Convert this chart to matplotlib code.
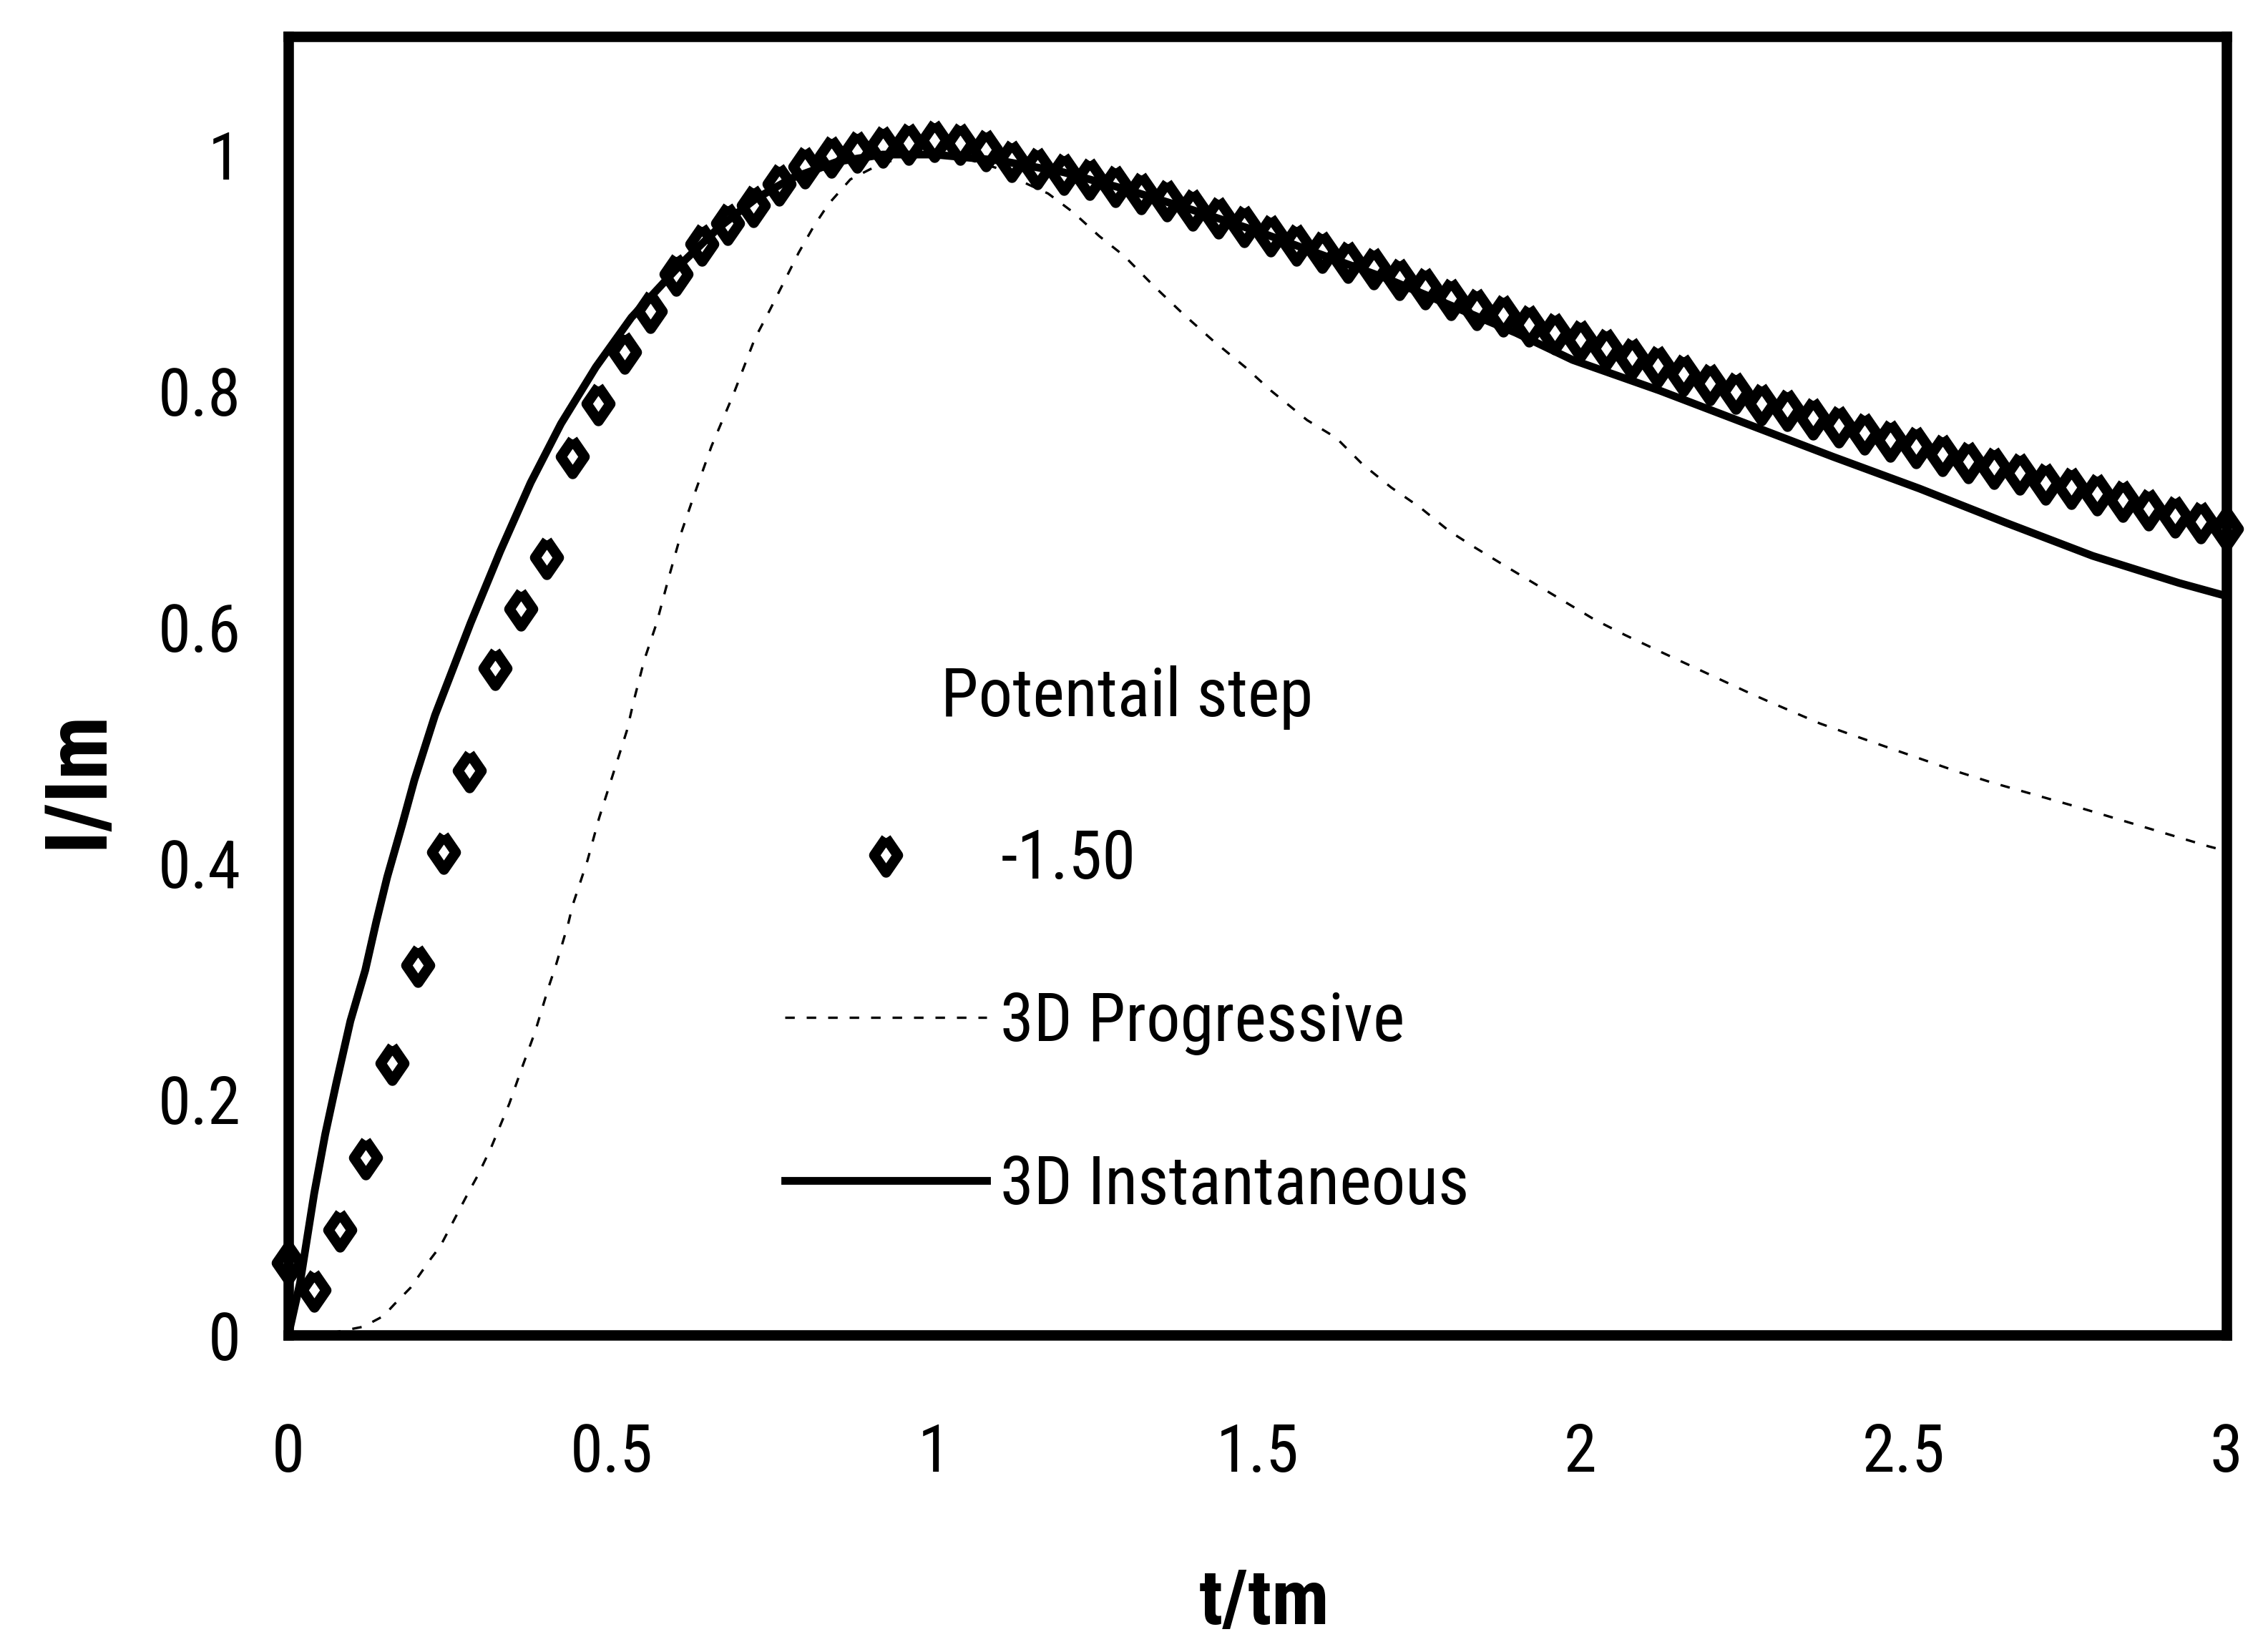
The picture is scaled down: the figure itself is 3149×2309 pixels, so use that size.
import matplotlib
matplotlib.use('Agg')
import matplotlib.pyplot as plt
from matplotlib import font_manager

# pick a narrow sans font if one is installed (the original uses Arial Narrow)
prefs = ['Liberation Sans Narrow', 'Arial Narrow', 'Roboto Condensed',
         'Noto Sans Condensed', 'Open Sans Condensed', 'Noto Sans SemiCondensed',
         'DejaVu Sans']
narrow = {}
for f in font_manager.fontManager.ttflist:
    if 'Mono' in f.name or 'Serif' in f.name:
        continue
    if f.stretch in ('condensed', 'semi-condensed') or 'Narrow' in f.name or 'Condensed' in f.name:
        narrow.setdefault(f.name, f.stretch)
fam = 'Liberation Sans'
for p in prefs:
    if p in narrow:
        fam = p
        plt.rcParams['font.stretch'] = narrow[p]
        break
plt.rcParams['font.family'] = [fam, 'DejaVu Sans']

# potential step -1.50 (open diamonds)
t_exp = [0.00, 0.04, 0.08, 0.12, 0.16, 0.20, 0.24, 0.28, 0.32, 0.36,
         0.40, 0.44, 0.48, 0.52, 0.56, 0.60, 0.64, 0.68, 0.72, 0.76,
         0.80, 0.84, 0.88, 0.92, 0.96, 1.00, 1.04, 1.08, 1.12, 1.16,
         1.20, 1.24, 1.28, 1.32, 1.36, 1.40, 1.44, 1.48, 1.52, 1.56,
         1.60, 1.64, 1.68, 1.72, 1.76, 1.80, 1.84, 1.88, 1.92, 1.96,
         2.00, 2.04, 2.08, 2.12, 2.16, 2.20, 2.24, 2.28, 2.32, 2.36,
         2.40, 2.44, 2.48, 2.52, 2.56, 2.60, 2.64, 2.68, 2.72, 2.76,
         2.80, 2.84, 2.88, 2.92, 2.96, 3.00]
i_exp = [0.061, 0.038, 0.089, 0.150, 0.230, 0.313, 0.409, 0.478, 0.565, 0.615,
         0.659, 0.744, 0.789, 0.833, 0.867, 0.899, 0.924, 0.942, 0.957, 0.975,
         0.990, 0.999, 1.003, 1.007, 1.010, 1.012, 1.010, 1.004, 0.995, 0.989,
         0.984, 0.980, 0.974, 0.968, 0.962, 0.954, 0.947, 0.940, 0.932, 0.924,
         0.918, 0.910, 0.904, 0.895, 0.887, 0.878, 0.870, 0.864, 0.856, 0.849,
         0.843, 0.836, 0.828, 0.821, 0.814, 0.806, 0.799, 0.789, 0.784, 0.777,
         0.770, 0.764, 0.758, 0.753, 0.746, 0.740, 0.735, 0.730, 0.722, 0.718,
         0.713, 0.707, 0.700, 0.694, 0.689, 0.683]

# 3D progressive (thin dotted)
t_prog = [0.0, 0.06, 0.116, 0.147, 0.164, 0.189, 0.221, 0.235, 0.278, 0.294,
          0.314, 0.342, 0.362, 0.382, 0.403, 0.414, 0.433, 0.44, 0.463, 0.481,
          0.524, 0.535, 0.551, 0.57, 0.589, 0.609, 0.629, 0.655, 0.689, 0.722,
          0.745, 0.768, 0.79, 0.813, 0.836, 0.870, 0.92, 0.98, 1.04, 1.10,
          1.144, 1.176, 1.215, 1.255, 1.294, 1.339, 1.385, 1.43, 1.481, 1.521,
          1.577, 1.622, 1.662, 1.707, 1.752, 1.797, 1.837, 1.885, 2.022,
          2.069, 2.131, 2.257, 2.29, 2.371, 2.412, 2.485, 2.585, 2.637,
          2.765, 2.972, 3.0]
i_prog = [0.0, 0.001, 0.007, 0.016, 0.026, 0.040, 0.065, 0.075, 0.120, 0.136,
          0.159, 0.196, 0.227, 0.257, 0.295, 0.313, 0.348, 0.364, 0.402, 0.438,
          0.512, 0.538, 0.572, 0.603, 0.642, 0.681, 0.713, 0.753, 0.797, 0.844,
          0.868, 0.893, 0.917, 0.939, 0.958, 0.979, 0.993, 1.0, 0.998, 0.988,
          0.975, 0.967, 0.951, 0.931, 0.914, 0.889, 0.865, 0.843, 0.820, 0.800,
          0.775, 0.760, 0.738, 0.718, 0.701, 0.681, 0.667, 0.651, 0.606,
          0.593, 0.577, 0.545, 0.537, 0.518, 0.510, 0.496, 0.477, 0.468,
          0.448, 0.414, 0.410]

# 3D instantaneous (solid)
t_inst = [0.0, 0.018, 0.04, 0.057, 0.074, 0.096, 0.119, 0.136, 0.153, 0.176,
          0.195, 0.227, 0.282, 0.328, 0.375, 0.422, 0.476, 0.531, 0.609, 0.666,
          0.722, 0.779, 0.85, 0.92, 1.0, 1.1, 1.2, 1.3, 1.4, 1.5,
          1.6, 1.7, 1.8, 1.9, 1.988, 2.123, 2.257, 2.391, 2.525, 2.659,
          2.793, 2.927, 3.0]
i_inst = [0.0, 0.044, 0.120, 0.170, 0.213, 0.266, 0.309, 0.350, 0.388, 0.432,
          0.470, 0.525, 0.603, 0.664, 0.722, 0.772, 0.820, 0.862, 0.908, 0.938,
          0.962, 0.980, 0.994, 1.0, 1.0, 0.995, 0.985, 0.970, 0.953, 0.935,
          0.915, 0.895, 0.872, 0.849, 0.826, 0.800, 0.772, 0.744, 0.717, 0.688,
          0.660, 0.637, 0.626]

xticks = [0, 0.5, 1, 1.5, 2, 2.5, 3]
xlabels = ['0', '0.5', '1', '1.5', '2', '2.5', '3']
yticks = [0, 0.2, 0.4, 0.6, 0.8, 1]
ylabels = ['0', '0.2', '0.4', '0.6', '0.8', '1']

fig = plt.figure(figsize=(3149 / 300, 2309 / 300), dpi=300)
ax = fig.add_axes([0.128, 0.1919, 0.8602, 0.786])

# scale the font so that text widths come out close to the original
r = fig.canvas.get_renderer()
probe = fig.text(0, 0, '3D Instantaneous', fontsize=24.5)
w = probe.get_window_extent(r).width
probe.remove()
k = min(1.0, 656.0 / w)
fs = 24.5 * k

diamond = [(0, 1), (0.69, 0), (0, -1), (-0.69, 0), (0, 1)]
ax.plot(t_exp, i_exp, ls='none', marker=diamond, markersize=11.5,
        mfc='none', mec='black', mew=3.5, clip_on=False, zorder=4,
        label='-1.50')
ax.plot(t_prog, i_prog, color='black', lw=0.8, ls=(0, (4, 5)),
        label='3D Progressive')
ax.plot(t_inst, i_inst, color='black', lw=2.6, label='3D Instantaneous')

ax.set_xlim(0, 3)
ax.set_ylim(0, 1.1)
ax.set_xticks(xticks)
ax.set_xticklabels(xlabels)
ax.set_yticks(yticks)
ax.set_yticklabels(ylabels)
ax.tick_params(axis='both', length=0, labelsize=24 * k)
ax.tick_params(axis='x', pad=29)
ax.tick_params(axis='y', pad=16)
for s in ax.spines.values():
    s.set_linewidth(3.5)

ax.set_xlabel('t/tm', fontsize=28 * k, fontweight='bold')
ax.set_ylabel('I/Im', fontsize=31 * k, fontweight='bold')
ax.xaxis.set_label_coords(0.5035, -0.178)
ax.yaxis.set_label_coords(-0.087, 0.428)

ax.legend(title='Potentail step', loc='upper left',
          bbox_to_anchor=(0.2108, 0.583), frameon=False,
          fontsize=fs, title_fontsize=fs, handlelength=2.77 * 24.5 / fs,
          handletextpad=0.2, labelspacing=1.34 * 24.5 / fs,
          borderpad=1.2 * 24.5 / fs, borderaxespad=0, numpoints=1)

plt.savefig('out.png', dpi=300)
